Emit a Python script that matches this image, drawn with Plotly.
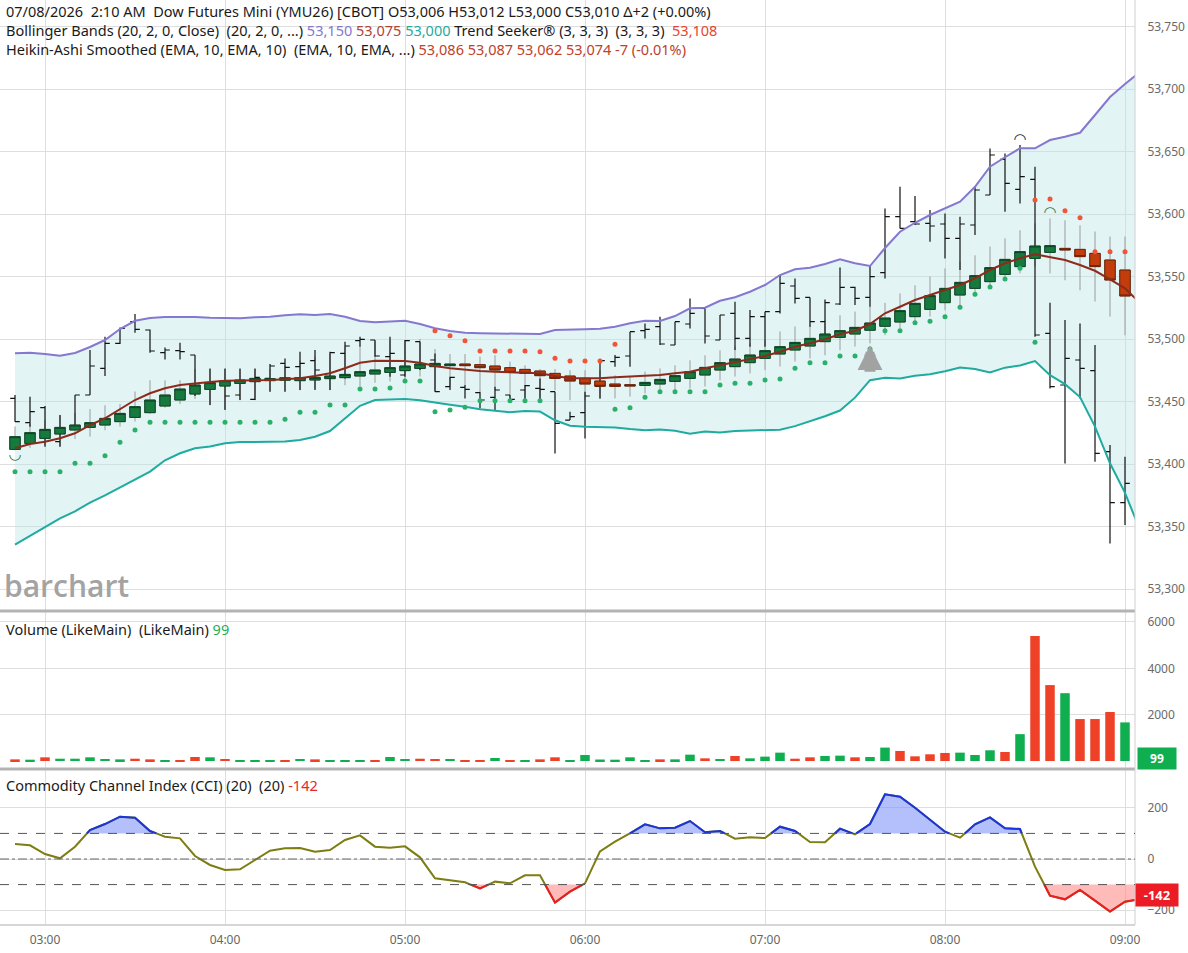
import pandas as pd
import plotly.graph_objects as go

# ---------------- data ----------------
times = pd.date_range("2026-07-08 02:50", periods=76, freq="5min")
N_BARS = 75
bar_times = times[:N_BARS]

price_open = [53452.5, 53433.1, 53445.1, 53417.9, 53429.9, 53455.2, 53476.5, 53496.5, 53513.9, 53507.2,
              53489.1, 53490.7, 53487.2, 53461.9, 53464.5, 53455.2, 53451.7, 53468.5, 53480.5, 53477.9,
              53482.7, 53469.3, 53488.5, 53498.7, 53499.2, 53485.9, 53471.2, 53497.9, 53483.2, 53461.9,
              53461.3, 53457.1, 53453.3, 53455.2, 53459.2, 53460.5, 53457.9, 53435.2, 53441.1, 53462.0,
              53481.9, 53486.4, 53506.7, 53509.9, 53495.2, 53512.0, 53524.5, 53499.2, 53520.5, 53500.5,
              53517.9, 53521.9, 53542.4, 53533.3, 53513.9, 53528.0, 53541.3, 53533.3, 53553.1, 53597.9,
              53593.9, 53592.5, 53592.0, 53580.5, 53591.2, 53615.2, 53643.7, 53619.7, 53627.7, 53504.5,
              53463.2, 53483.2, 53474.7, 53409.9, 53369.1]
price_high = [53455.2, 53453.9, 53446.4, 53439.2, 53455.2, 53491.2, 53501.9, 53509.3, 53520.0, 53507.7,
              53493.3, 53497.1, 53487.2, 53476.5, 53476.5, 53476.5, 53476.5, 53480.0, 53484.5, 53489.9,
              53491.2, 53489.9, 53497.9, 53501.9, 53499.2, 53501.9, 53499.2, 53497.9, 53488.5, 53469.9,
              53463.2, 53457.9, 53461.9, 53455.2, 53463.2, 53468.5, 53457.9, 53441.9, 53457.9, 53483.5,
              53487.2, 53505.9, 53512.5, 53517.9, 53513.9, 53532.5, 53524.5, 53519.2, 53529.9, 53523.2,
              53521.9, 53551.2, 53548.5, 53533.3, 53531.7, 53557.3, 53541.9, 53559.2, 53604.5, 53621.9,
              53614.4, 53603.2, 53600.5, 53597.9, 53621.9, 53652.5, 53648.5, 53655.2, 53637.9, 53529.1,
              53515.2, 53512.5, 53495.2, 53415.2, 53405.9]
price_low = [53433.9, 53429.9, 53413.9, 53413.9, 53427.2, 53455.2, 53470.4, 53496.0, 53505.1, 53489.1,
             53483.7, 53483.7, 53454.4, 53447.2, 53443.2, 53451.2, 53451.2, 53457.9, 53457.9, 53459.2,
             53459.2, 53459.2, 53468.5, 53493.9, 53485.9, 53469.9, 53469.9, 53475.2, 53457.9, 53459.2,
             53452.5, 53444.5, 53443.2, 53449.9, 53451.2, 53451.2, 53408.5, 53435.2, 53420.5, 53452.5,
             53477.9, 53477.9, 53500.5, 53495.2, 53495.2, 53508.5, 53496.5, 53499.2, 53491.2, 53493.9,
             53493.9, 53520.5, 53528.5, 53509.9, 53501.9, 53527.2, 53527.2, 53525.9, 53548.5, 53588.5,
             53591.2, 53577.9, 53564.5, 53555.2, 53583.2, 53615.2, 53601.9, 53608.5, 53501.9, 53460.5,
             53400.5, 53452.5, 53401.9, 53336.5, 53351.2]
price_close = [53433.9, 53441.9, 53421.9, 53425.9, 53455.2, 53478.4, 53496.5, 53508.5, 53507.7, 53490.4,
               53491.2, 53489.9, 53461.9, 53464.5, 53454.4, 53466.7, 53469.3, 53478.4, 53477.3, 53480.5,
               53475.2, 53489.1, 53494.4, 53499.7, 53486.4, 53488.5, 53498.7, 53477.9, 53457.9, 53469.3,
               53459.7, 53451.2, 53459.2, 53451.7, 53462.7, 53459.7, 53432.5, 53437.9, 53454.4, 53482.7,
               53485.3, 53505.9, 53507.7, 53496.0, 53513.9, 53520.5, 53502.4, 53519.2, 53500.5, 53517.9,
               53521.9, 53544.5, 53532.5, 53513.9, 53529.1, 53541.3, 53532.5, 53549.9, 53597.9, 53588.5,
               53592.0, 53590.4, 53580.5, 53592.0, 53619.2, 53647.2, 53624.5, 53629.9, 53503.2, 53461.9,
               53484.5, 53476.5, 53408.5, 53369.1, 53384.5]

ha_open = [53411.7, 53416.5, 53420.5, 53424.0, 53427.2, 53429.3, 53431.2, 53433.9, 53437.3, 53441.1,
           53446.4, 53451.2, 53456.0, 53459.7, 53462.4, 53464.5, 53465.9, 53466.7, 53467.0, 53466.7,
           53467.2, 53468.3, 53469.1, 53470.4, 53472.0, 53473.3, 53474.7, 53476.5, 53477.9, 53478.7,
           53480.0, 53479.5, 53478.4, 53477.1, 53475.7, 53474.4, 53472.5, 53470.4, 53468.5, 53466.4,
           53464.0, 53463.5, 53462.9, 53464.0, 53466.1, 53468.5, 53471.2, 53475.2, 53477.9, 53481.1,
           53484.5, 53488.0, 53491.2, 53494.4, 53497.9, 53501.3, 53504.0, 53507.0, 53510.2, 53513.6,
           53517.9, 53523.7, 53529.1, 53535.2, 53540.5, 53545.9, 53551.7, 53557.9, 53564.5, 53569.3,
           53572.5, 53571.7, 53568.5, 53563.2, 53555.2]
ha_close = [53421.9, 53425.1, 53427.7, 53429.3, 53431.2, 53433.1, 53436.5, 53440.5, 53445.9, 53451.2,
            53455.2, 53460.0, 53463.2, 53465.1, 53466.7, 53467.2, 53468.5, 53468.3, 53469.0, 53469.1,
            53469.3, 53470.4, 53471.7, 53473.9, 53475.2, 53477.1, 53478.4, 53480.0, 53480.5, 53480.0,
            53478.7, 53477.1, 53475.2, 53473.3, 53472.5, 53470.7, 53468.5, 53466.4, 53464.0, 53462.2,
            53462.1, 53462.4, 53465.3, 53467.7, 53470.7, 53473.9, 53477.3, 53481.1, 53484.0, 53487.2,
            53490.7, 53493.9, 53497.3, 53500.5, 53504.0, 53506.7, 53509.3, 53512.8, 53516.8, 53522.7,
            53528.5, 53534.7, 53540.5, 53545.3, 53550.7, 53557.1, 53563.7, 53569.9, 53574.4, 53574.7,
            53571.2, 53565.9, 53557.9, 53547.2, 53534.4]
ha_high = [53430, 53432, 53435, 53439, 53441, 53444, 53447, 53448, 53458, 53467,
           53467, 53467, 53476, 53476, 53476, 53476, 53476, 53476, 53479, 53483,
           53486, 53488, 53494, 53494, 53498, 53499, 53499, 53500, 53492, 53488,
           53488, 53486, 53487, 53482, 53479, 53476, 53476, 53475, 53475, 53475,
           53471, 53470, 53474, 53476.5, 53479, 53483, 53487, 53491, 53494, 53496.5,
           53499, 53506, 53510, 53511, 53515, 53519, 53522, 53526, 53529, 53536.5,
           53543, 53550, 53556.5, 53562, 53567, 53574, 53580.5, 53587, 53592.5, 53596.5,
           53595, 53591, 53586, 53582, 53582]
ha_low = [53411, 53413, 53415, 53414, 53420, 53422, 53427, 53430, 53434, 53440,
          53445, 53448, 53452, 53447, 53444, 53451, 53451, 53458, 53458, 53459,
          53460, 53459, 53463, 53462, 53465, 53466, 53467, 53470, 53458, 53462,
          53463, 53458, 53459, 53451, 53453, 53451, 53459, 53451, 53451, 53452,
          53452.5, 53454, 53456.5, 53456.5, 53458, 53460.5, 53462, 53467, 53470, 53472.5,
          53475, 53478, 53482, 53484.5, 53487, 53491, 53494, 53496.5, 53503, 53508.5,
          53512.5, 53518, 53523, 53527, 53534, 53540.5, 53547, 53552.5, 53558, 53552.5,
          53547, 53539, 53530, 53518, 53503]

bb_upper = [53488.6, 53489.0, 53488.0, 53486.6, 53488.8, 53493.6, 53499.2, 53508.0, 53514.6, 53516.8,
            53517.6, 53517.8, 53517.6, 53517.0, 53516.6, 53516.6, 53517.4, 53517.8, 53519.0, 53519.8,
            53519.2, 53520.0, 53517.8, 53514.4, 53513.4, 53513.8, 53514.6, 53512.0, 53508.6, 53506.4,
            53505.0, 53504.6, 53504.6, 53504.6, 53504.6, 53504.0, 53507.2, 53507.8, 53507.8, 53508.2,
            53509.8, 53512.6, 53514.6, 53514.4, 53518.4, 53524.6, 53525.0, 53530.6, 53533.4, 53537.8,
            53543.2, 53551.2, 53555.8, 53557.0, 53560.0, 53563.8, 53560.6, 53558.4, 53572.8, 53585.8,
            53593.0, 53599.2, 53604.6, 53609.8, 53621.8, 53637.8, 53645.4, 53652.6, 53652.6, 53659.2,
            53661.8, 53665.0, 53679.2, 53693.6, 53704.0, 53713.6]
bb_middle = [53412.6, 53416.0, 53417.8, 53420.6, 53424.6, 53431.2, 53436.6, 53443.8, 53451.2, 53456.6,
             53460.6, 53463.2, 53464.6, 53465.6, 53466.6, 53466.6, 53467.2, 53467.2, 53467.8, 53468.6,
             53470.4, 53472.6, 53476.6, 53481.0, 53482.6, 53482.6, 53482.4, 53481.0, 53478.4, 53476.6,
             53475.2, 53474.4, 53473.8, 53473.4, 53473.0, 53472.6, 53470.4, 53468.6, 53468.6, 53468.6,
             53469.4, 53469.8, 53470.4, 53471.2, 53472.6, 53473.8, 53476.6, 53479.0, 53481.8, 53483.8,
             53486.4, 53489.8, 53493.8, 53496.6, 53499.8, 53503.8, 53506.6, 53512.0, 53520.6, 53525.8,
             53531.2, 53535.2, 53539.2, 53543.2, 53548.6, 53555.2, 53560.6, 53564.6, 53567.8, 53565.8,
             53563.2, 53559.2, 53554.6, 53547.8, 53540.6, 53528.8]
bb_lower = [53335.5, 53342.7, 53349.4, 53356.5, 53362.2, 53369.2, 53375.0, 53381.4, 53388.0, 53394.0,
            53403.0, 53408.6, 53412.6, 53414.0, 53416.6, 53417.6, 53417.6, 53417.6, 53418.0, 53419.2,
            53421.8, 53426.4, 53436.6, 53446.6, 53451.2, 53451.8, 53452.0, 53451.0, 53449.0, 53447.4,
            53445.8, 53443.8, 53442.6, 53441.4, 53442.4, 53442.0, 53435.0, 53430.7, 53429.8, 53429.5,
            53429.3, 53428.0, 53427.0, 53427.6, 53426.6, 53424.3, 53426.0, 53425.3, 53426.5, 53426.9,
            53427.2, 53427.4, 53430.3, 53434.1, 53438.2, 53442.8, 53453.1, 53467.1, 53469.1, 53468.5,
            53470.7, 53471.9, 53474.2, 53477.2, 53476.0, 53473.2, 53477.1, 53478.8, 53482.4, 53471.1,
            53463.9, 53453.6, 53429.9, 53400.6, 53376.9, 53347.2]

ts_support = ([53393.8] * 4 + [53400.6] * 2 + [53406.6, 53417.4, 53427.2] + [53433.4] * 9 + [53435.8]
              + [53441.4] * 2 + [53447.2] * 2 + [53460.0] * 2 + [53460.8] + [53466.4] * 2
              + [53441.8, 53443.2, 53445.4] + [53450.6] * 5 + [None] * 4
              + [53443.8, 53445.0, 53453.4] + [53457.8] * 4 + [53463.2] + [53464.6] * 2 + [53467.2, 53468.0, 53476.6]
              + [53481.0] * 2 + [53486.4] * 2 + [53492.0] + [53506.6] * 2
              + [53513.0, 53514.2, 53517.8, 53525.4, 53535.8, 53541.6, 53548.0, 53556.6, 53497.4] + [None] * 6)
ts_resist = ([None] * 28 + [53506.6, 53502.6, 53498.6] + [53490.4] * 4 + [53489.8, 53484.6] + [53482.4] * 3
             + [53495.8] + [None] * 27 + [53611.2, 53612.0, 53602.6, 53597.0] + [53569.8] * 3)

# Trend Seeker signal marks: (bar index, price)
arc_low_bars, arc_low_prices = [0], [53407]
arc_high_bars, arc_high_prices, arc_high_colors = [67, 69], [53659, 53601], ["#222222", "#1d7a55"]
arrow_bars, arrow_prices = [57], [53495]

volume = [72, 58, 160, 100, 100, 160, 87, 72, 100, 72,
          30, 30, 174, 160, 87, 30, 30, 30, 30, 87,
          72, 44, 44, 30, 30, 174, 87, 100, 87, 87,
          30, 30, 130, 30, 15, 72, 160, 30, 261, 65,
          58, 160, 30, 73, 73, 275, 116, 87, 218, 116,
          190, 362, 100, 160, 218, 232, 160, 174, 580, 435,
          203, 290, 348, 362, 261, 464, 391, 1160, 5394, 3277,
          2928, 1812, 1812, 2117, 1667]

cci = [58.6, 53.4, 19.5, 2.6, 48.2, 113.3, 136.7, 165.4, 161.5, 109.4,
       87.2, 80.7, 11.7, -23.4, -43.0, -40.4, -3.9, 32.6, 41.7, 43.0,
       28.6, 35.2, 74.2, 92.4, 48.2, 44.3, 49.5, 6.5, -75.5, -84.6,
       -91.1, -114.6, -88.5, -95.0, -63.8, -63.8, -170.6, -127.6, -95.0, 30.0,
       67.7, 100.3, 135.4, 119.8, 122.4, 148.4, 104.2, 109.4, 79.4, 84.6,
       82.0, 126.3, 109.4, 66.4, 65.1, 118.5, 96.4, 136.7, 252.6, 243.5,
       200.5, 152.3, 106.8, 83.3, 135.4, 162.8, 119.8, 117.2, -29.9, -143.2,
       -157.6, -121.1, -162.8, -205.7, -166.7, -157.0]

last_volume_label = 99
last_cci_label = -142

main_ticks = [53300, 53350, 53400, 53450, 53500, 53550, 53600, 53650, 53700, 53750]
vol_ticks = [2000, 4000, 6000]
cci_ticks = [-200, 0, 200]
cci_levels = [100, -100]

# ---------------- styling ----------------
FONT = "Noto Sans"
GRID = "#dedede"
GREEN_VOL = "#0fae4f"
RED_VOL = "#ee4128"
X_RANGE = ["2026-07-08 02:45:00", "2026-07-08 09:03:20"]

fig = go.Figure()

# Bollinger band fill (base axis, beneath candles)
fig.add_trace(go.Scatter(x=times, y=bb_lower, mode="lines", line=dict(width=0),
                         hoverinfo="skip", showlegend=False, xaxis="x", yaxis="y"))
fig.add_trace(go.Scatter(x=times, y=bb_upper, mode="lines", line=dict(width=0), fill="tonexty",
                         fillcolor="rgba(188,228,230,0.42)", hoverinfo="skip", showlegend=False,
                         xaxis="x", yaxis="y"))

# Heikin-Ashi wicks (grey), then price OHLC bars (black)
fig.add_trace(go.Candlestick(x=bar_times, open=ha_open, high=ha_high, low=ha_low, close=ha_close,
                             increasing=dict(line=dict(color="#9b9b9b", width=1), fillcolor="#9b9b9b"),
                             decreasing=dict(line=dict(color="#9b9b9b", width=1), fillcolor="#9b9b9b"),
                             whiskerwidth=0, showlegend=False, hoverinfo="skip", xaxis="x", yaxis="y4"))
fig.add_trace(go.Ohlc(x=bar_times, open=price_open, high=price_high, low=price_low, close=price_close,
                      increasing=dict(line=dict(color="#111111", width=1.2)),
                      decreasing=dict(line=dict(color="#111111", width=1.2)),
                      tickwidth=0.32, showlegend=False, hoverinfo="skip", xaxis="x", yaxis="y4"))

# Heikin-Ashi bodies on top
body_hi = [max(o, c) for o, c in zip(ha_open, ha_close)]
body_lo = [min(o, c) for o, c in zip(ha_open, ha_close)]
fig.add_trace(go.Candlestick(x=bar_times, open=ha_open, high=body_hi, low=body_lo, close=ha_close,
                             increasing=dict(line=dict(color="#0c4524", width=1), fillcolor="#167a3f"),
                             decreasing=dict(line=dict(color="#6a2207", width=1), fillcolor="#c23c0c"),
                             whiskerwidth=0, showlegend=False, hoverinfo="skip", xaxis="x", yaxis="y5"))

# Bollinger lines
fig.add_trace(go.Scatter(x=times, y=bb_upper, mode="lines", line=dict(color="#8478cf", width=2),
                         showlegend=False, hoverinfo="skip", xaxis="x", yaxis="y5"))
fig.add_trace(go.Scatter(x=times, y=bb_lower, mode="lines", line=dict(color="#1eaba0", width=2),
                         showlegend=False, hoverinfo="skip", xaxis="x", yaxis="y5"))
fig.add_trace(go.Scatter(x=times, y=bb_middle, mode="lines", line=dict(color="#8c2b1c", width=2),
                         showlegend=False, hoverinfo="skip", xaxis="x", yaxis="y5"))

# Trend Seeker dots
fig.add_trace(go.Scatter(x=bar_times, y=ts_support, mode="markers",
                         marker=dict(color="#2ab06a", size=5), showlegend=False, hoverinfo="skip",
                         xaxis="x", yaxis="y5"))
fig.add_trace(go.Scatter(x=bar_times, y=ts_resist, mode="markers",
                         marker=dict(color="#f0553a", size=5), showlegend=False, hoverinfo="skip",
                         xaxis="x", yaxis="y5"))

# Trend Seeker signals
fig.add_trace(go.Scatter(x=[bar_times[i] for i in arc_low_bars], y=arc_low_prices, mode="text",
                         text=["\u25e1"] * len(arc_low_bars),
                         textfont=dict(family="DejaVu Sans", size=15, color="#1d7a55"),
                         showlegend=False, hoverinfo="skip", xaxis="x", yaxis="y5"))
fig.add_trace(go.Scatter(x=[bar_times[i] for i in arc_high_bars], y=arc_high_prices, mode="text",
                         text=["\u25e0"] * len(arc_high_bars),
                         textfont=dict(family="DejaVu Sans", size=15, color=arc_high_colors),
                         showlegend=False, hoverinfo="skip", xaxis="x", yaxis="y5"))
# block arrow: grey shaft + triangular head (sizes are pixel styles, position from data)
for i, p in zip(arrow_bars, arrow_prices):
    fig.add_annotation(x=bar_times[i], y=p, xref="x", yref="y5", text="", showarrow=True,
                       ax=0, ay=28, arrowhead=0, arrowwidth=11, arrowcolor="#a2a2a2", standoff=9)
    fig.add_annotation(x=bar_times[i], y=p, xref="x", yref="y5", text="", showarrow=True,
                       ax=0, ay=14, arrowhead=2, arrowsize=0.55, arrowwidth=9,
                       arrowcolor="#a2a2a2", standoff=0)

# Volume
vol_colors = [GREEN_VOL if c >= o else RED_VOL for o, c in zip(price_open, price_close)]
fig.add_trace(go.Bar(x=bar_times, y=volume, marker=dict(color=vol_colors, line=dict(width=0)),
                     width=190000, showlegend=False, hoverinfo="skip", xaxis="x2", yaxis="y2"))

# CCI with crossings of +/-100 inserted so colouring switches exactly at the levels
t_ns = [t.value for t in times]
cx, cy = [], []
for k in range(len(cci)):
    if k > 0:
        y0, y1 = cci[k - 1], cci[k]
        cross = []
        for lvl in cci_levels:
            if (y0 - lvl) * (y1 - lvl) < 0:
                cross.append(((lvl - y0) / (y1 - y0), lvl))
        for f, lvl in sorted(cross):
            cx.append(t_ns[k - 1] + f * (t_ns[k] - t_ns[k - 1]))
            cy.append(lvl)
    cx.append(t_ns[k])
    cy.append(cci[k])
cx = pd.to_datetime(cx)

up_lvl, dn_lvl = cci_levels
fig.add_trace(go.Scatter(x=cx, y=[up_lvl] * len(cx), mode="lines", line=dict(width=0),
                         showlegend=False, hoverinfo="skip", xaxis="x3", yaxis="y3"))
fig.add_trace(go.Scatter(x=cx, y=[max(v, up_lvl) for v in cy], mode="lines", line=dict(width=0),
                         fill="tonexty", fillcolor="rgba(118,140,250,0.55)",
                         showlegend=False, hoverinfo="skip", xaxis="x3", yaxis="y3"))
fig.add_trace(go.Scatter(x=cx, y=[dn_lvl] * len(cx), mode="lines", line=dict(width=0),
                         showlegend=False, hoverinfo="skip", xaxis="x3", yaxis="y3"))
fig.add_trace(go.Scatter(x=cx, y=[min(v, dn_lvl) for v in cy], mode="lines", line=dict(width=0),
                         fill="tonexty", fillcolor="rgba(255,140,140,0.6)",
                         showlegend=False, hoverinfo="skip", xaxis="x3", yaxis="y3"))
fig.add_trace(go.Scatter(x=cx, y=cy, mode="lines", line=dict(color="#7e7d12", width=2),
                         showlegend=False, hoverinfo="skip", xaxis="x3", yaxis="y3"))
fig.add_trace(go.Scatter(x=cx, y=[v if v >= up_lvl else None for v in cy], mode="lines",
                         line=dict(color="#1a35e0", width=2), connectgaps=False,
                         showlegend=False, hoverinfo="skip", xaxis="x3", yaxis="y3"))
fig.add_trace(go.Scatter(x=cx, y=[v if v <= dn_lvl else None for v in cy], mode="lines",
                         line=dict(color="#ec1c24", width=2), connectgaps=False,
                         showlegend=False, hoverinfo="skip", xaxis="x3", yaxis="y3"))

# ---------------- layout ----------------
MAIN_RANGE = [53283.2, 53771.2]
xcommon = dict(range=X_RANGE, type="date", showgrid=True, gridcolor=GRID, gridwidth=1,
               dtick=3600000, tick0="2026-07-08 03:00", zeroline=False,
               rangeslider=dict(visible=False), fixedrange=True)
ycommon = dict(side="right", showgrid=True, gridcolor=GRID, gridwidth=1, zeroline=False,
               ticks="outside", ticklen=9, tickcolor="rgba(0,0,0,0)",
               tickfont=dict(family=FONT, size=12, color="#6a6a6a"), fixedrange=True)

fig.update_layout(
    width=1188, height=953,
    margin=dict(l=0, r=53, t=0, b=28),
    paper_bgcolor="white", plot_bgcolor="white",
    font=dict(family=FONT, size=12, color="#222"),
    showlegend=False, boxmode="overlay", boxgap=0.3, boxgroupgap=0, bargap=0.3,
    xaxis=dict(domain=[0, 1], anchor="y", showticklabels=False, **xcommon),
    xaxis2=dict(domain=[0, 1], anchor="y2", matches="x", showticklabels=False, **xcommon),
    xaxis3=dict(domain=[0, 1], anchor="y3", matches="x", showticklabels=True, tickformat="%H:%M",
                ticks="outside", ticklen=4, tickcolor="rgba(0,0,0,0)",
                tickfont=dict(family=FONT, size=12, color="#666"), **xcommon),
    yaxis=dict(domain=[0.3405, 1], anchor="x", range=MAIN_RANGE, tickvals=main_ticks,
               tickformat=",d", **ycommon),
    yaxis4=dict(overlaying="y", anchor="x", range=MAIN_RANGE, visible=False, fixedrange=True),
    yaxis5=dict(overlaying="y", anchor="x", range=MAIN_RANGE, visible=False, fixedrange=True),
    yaxis2=dict(domain=[0.1697, 0.3384], anchor="x2", range=[-302, 6432], tickvals=vol_ticks,
                tickformat="d", **ycommon),
    yaxis3=dict(domain=[0, 0.1676], anchor="x3", range=[-258, 348], tickvals=cci_ticks,
                tickformat="d", **ycommon),
)

# panel separators, right border, bottom border
fig.add_shape(type="line", xref="paper", yref="paper", x0=0, x1=1, y0=0.3395, y1=0.3395,
              line=dict(color="#b3b3b3", width=3))
fig.add_shape(type="line", xref="paper", yref="paper", x0=0, x1=1, y0=0.1686, y1=0.1686,
              line=dict(color="#b3b3b3", width=3))
fig.add_shape(type="line", xref="paper", yref="paper", x0=1, x1=1, y0=0, y1=1,
              line=dict(color="#cfcfcf", width=1))
fig.add_shape(type="line", xref="paper", yref="paper", x0=0, x1=1, y0=0, y1=0,
              line=dict(color="#d6d6d6", width=2))
# CCI reference levels
for lvl in cci_levels:
    fig.add_shape(type="line", xref="x3 domain", yref="y3", x0=0, x1=1, y0=lvl, y1=lvl,
                  line=dict(color="#555", width=1, dash="dash"))
fig.add_shape(type="line", xref="x3 domain", yref="y3", x0=0, x1=1, y0=0, y1=0,
              line=dict(color="#666", width=1, dash="dashdot"))

# texts
header = ("07/08/2026  2:10 AM  Dow Futures Mini (YMU26) [CBOT] O53,006 H53,012 L53,000 C53,010 \u0394+2 (+0.00%)<br>"
          "Bollinger Bands (20, 2, 0, Close)  (20, 2, 0, ...) "
          "<span style='color:#8478cf'>53,150</span> <span style='color:#b04434'>53,075</span> "
          "<span style='color:#1eaba0'>53,000</span> Trend Seeker\u00ae (3, 3, 3)  (3, 3, 3)  "
          "<span style='color:#e8442d'>53,108</span><br>"
          "Heikin-Ashi Smoothed (EMA, 10, EMA, 10)  (EMA, 10, EMA, ...) "
          "<span style='color:#c0402a'>53,086 53,087 53,062 53,074 -7 (-0.01%)</span>")
fig.add_annotation(text=header, xref="paper", yref="paper", x=0, y=1, xanchor="left", yanchor="top",
                   xshift=4, yshift=1, align="left", showarrow=False,
                   font=dict(family=FONT, size=14.5, color="#1a1a1a"))
fig.add_annotation(text="Volume (LikeMain)  (LikeMain) <span style='color:#1fae5a'>%d</span>" % last_volume_label,
                   xref="paper", yref="y2 domain", x=0, y=1, xanchor="left", yanchor="top",
                   xshift=4, yshift=-5, showarrow=False, font=dict(family=FONT, size=14.5, color="#1a1a1a"))
fig.add_annotation(text="Commodity Channel Index (CCI) (20)  (20) <span style='color:#e8262a'>%d</span>" % last_cci_label,
                   xref="paper", yref="y3 domain", x=0, y=1, xanchor="left", yanchor="top",
                   xshift=4, yshift=-3, showarrow=False, font=dict(family=FONT, size=14.5, color="#1a1a1a"))
fig.add_annotation(text="barchart", xref="paper", yref="y domain", x=0, y=0, xanchor="left",
                   yanchor="bottom", xshift=2, yshift=2, showarrow=False,
                   font=dict(family="Open Sans", size=30, color="#a3a3a3", weight=600))
fig.add_annotation(text="<b>%d</b>" % last_volume_label, xref="paper", yref="y2", x=1,
                   y=last_volume_label, xanchor="left", yanchor="middle", xshift=2, showarrow=False,
                   bgcolor=GREEN_VOL, borderpad=2, width=34,
                   font=dict(family=FONT, size=12, color="white"))
fig.add_annotation(text="<b>%d</b>" % last_cci_label, xref="paper", yref="y3", x=1,
                   y=last_cci_label, xanchor="left", yanchor="middle", xshift=0, showarrow=False,
                   bgcolor="#ec1c24", borderpad=2, width=38,
                   font=dict(family=FONT, size=13, color="white"))

fig.write_html("out.html")
